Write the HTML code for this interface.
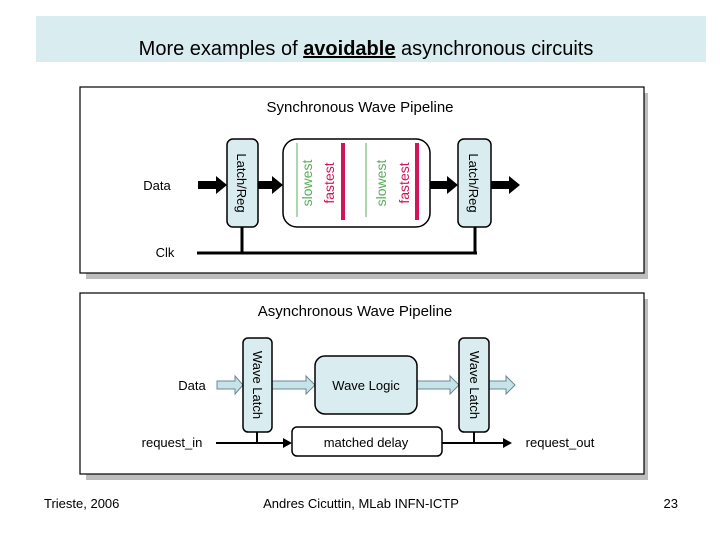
<!DOCTYPE html>
<html><head><meta charset="utf-8"><style>
html,body{margin:0;padding:0;background:#fff;}
svg{display:block;font-family:"Liberation Sans",sans-serif;}
</style></head><body>
<svg width="720" height="540" viewBox="0 0 720 540" xmlns="http://www.w3.org/2000/svg">
<rect x="36" y="16" width="670" height="46" fill="#d9ecef"/>
<text x="366" y="55" font-size="20" text-anchor="middle">More examples of <tspan font-weight="bold" text-decoration="underline">avoidable</tspan> asynchronous circuits</text>

<!-- sync box -->
<rect x="86" y="93" width="562" height="186" fill="#bdbdbd"/>
<rect x="80" y="87" width="564" height="186" fill="#fff" stroke="#000" stroke-width="1.2"/>
<text x="360" y="112" font-size="15" text-anchor="middle">Synchronous Wave Pipeline</text>
<text x="157" y="190" font-size="13" text-anchor="middle">Data</text>
<text x="165" y="257" font-size="13" text-anchor="middle">Clk</text>
<path d="M197,253 H477 M242,227 V253 M475,227 V253" stroke="#000" stroke-width="3" fill="none"/>
<g fill="#000">
<path d="M198,181 h18 v-5 l11,9 l-11,9 v-5 h-18 z"/>
<path d="M258,181 h14 v-5 l11,9 l-11,9 v-5 h-14 z"/>
<path d="M430,181 h17 v-5 l11,9 l-11,9 v-5 h-17 z"/>
<path d="M491,181 h18 v-5 l11,9 l-11,9 v-5 h-18 z"/>
</g>
<rect x="227" y="139" width="31" height="88" rx="6" fill="#d9ecef" stroke="#000" stroke-width="1.5"/>
<rect x="458" y="139" width="33" height="88" rx="6" fill="#d9ecef" stroke="#000" stroke-width="1.5"/>
<rect x="283" y="139" width="147" height="88" rx="14" fill="#fff" stroke="#000" stroke-width="1.5"/>
<text transform="translate(237,183) rotate(90)" font-size="13" text-anchor="middle">Latch/Reg</text>
<text transform="translate(469,183) rotate(90)" font-size="13" text-anchor="middle">Latch/Reg</text>
<path d="M297,143 V217 M366,143 V217" stroke="#5aad5a" stroke-width="1"/>
<path d="M343,143 V220 M417,143 V220" stroke="#d4145a" stroke-width="4"/>
<g font-size="14" text-anchor="middle">
<text transform="translate(312,183) rotate(-90)" fill="#5aad5a">slowest</text>
<text transform="translate(334,183) rotate(-90)" fill="#d4145a">fastest</text>
<text transform="translate(386,183) rotate(-90)" fill="#5aad5a">slowest</text>
<text transform="translate(409,183) rotate(-90)" fill="#d4145a">fastest</text>
</g>

<!-- async box -->
<rect x="86" y="299" width="562" height="181" fill="#bdbdbd"/>
<rect x="80" y="293" width="564" height="181" fill="#fff" stroke="#000" stroke-width="1.2"/>
<text x="355" y="316" font-size="15" text-anchor="middle">Asynchronous Wave Pipeline</text>
<text x="192" y="390" font-size="13" text-anchor="middle">Data</text>
<text x="172" y="447" font-size="13" text-anchor="middle">request_in</text>
<text x="560" y="447" font-size="13" text-anchor="middle">request_out</text>
<g fill="#c5e3e8" stroke="#6a8a90" stroke-width="1">
<path d="M217,381 h18 v-5 l8,9 l-8,9 v-5 h-18 z"/>
<path d="M272,381 h34 v-5 l9,9 l-9,9 v-5 h-34 z"/>
<path d="M417,381 h33 v-5 l9,9 l-9,9 v-5 h-33 z"/>
<path d="M489,381 h17 v-5 l9,9 l-9,9 v-5 h-17 z"/>
</g>
<path d="M216,443 H290 M442,443 H510 M257,432 V443 M474,432 V443" stroke="#000" stroke-width="2" fill="none"/>
<path d="M283,438 l9,5 l-9,5 z M503,438 l9,5 l-9,5 z" fill="#000"/>
<rect x="243" y="338" width="29" height="94" rx="5" fill="#d9ecef" stroke="#000" stroke-width="1.5"/>
<rect x="459" y="338" width="30" height="94" rx="5" fill="#d9ecef" stroke="#000" stroke-width="1.5"/>
<rect x="315" y="356" width="102" height="58" rx="10" fill="#d9ecef" stroke="#000" stroke-width="1.5"/>
<rect x="292" y="427" width="150" height="29" rx="5" fill="#fff" stroke="#000" stroke-width="1.5"/>
<text transform="translate(253,385) rotate(90)" font-size="13" text-anchor="middle">Wave Latch</text>
<text transform="translate(470,385) rotate(90)" font-size="13" text-anchor="middle">Wave Latch</text>
<text x="366" y="390" font-size="13" text-anchor="middle">Wave Logic</text>
<text x="366" y="447" font-size="13" text-anchor="middle">matched delay</text>

<text x="44" y="508" font-size="13">Trieste, 2006</text>
<text x="361" y="508" font-size="13" text-anchor="middle">Andres Cicuttin, MLab INFN-ICTP</text>
<text x="678" y="508" font-size="13" text-anchor="end">23</text>
</svg>
</body></html>
